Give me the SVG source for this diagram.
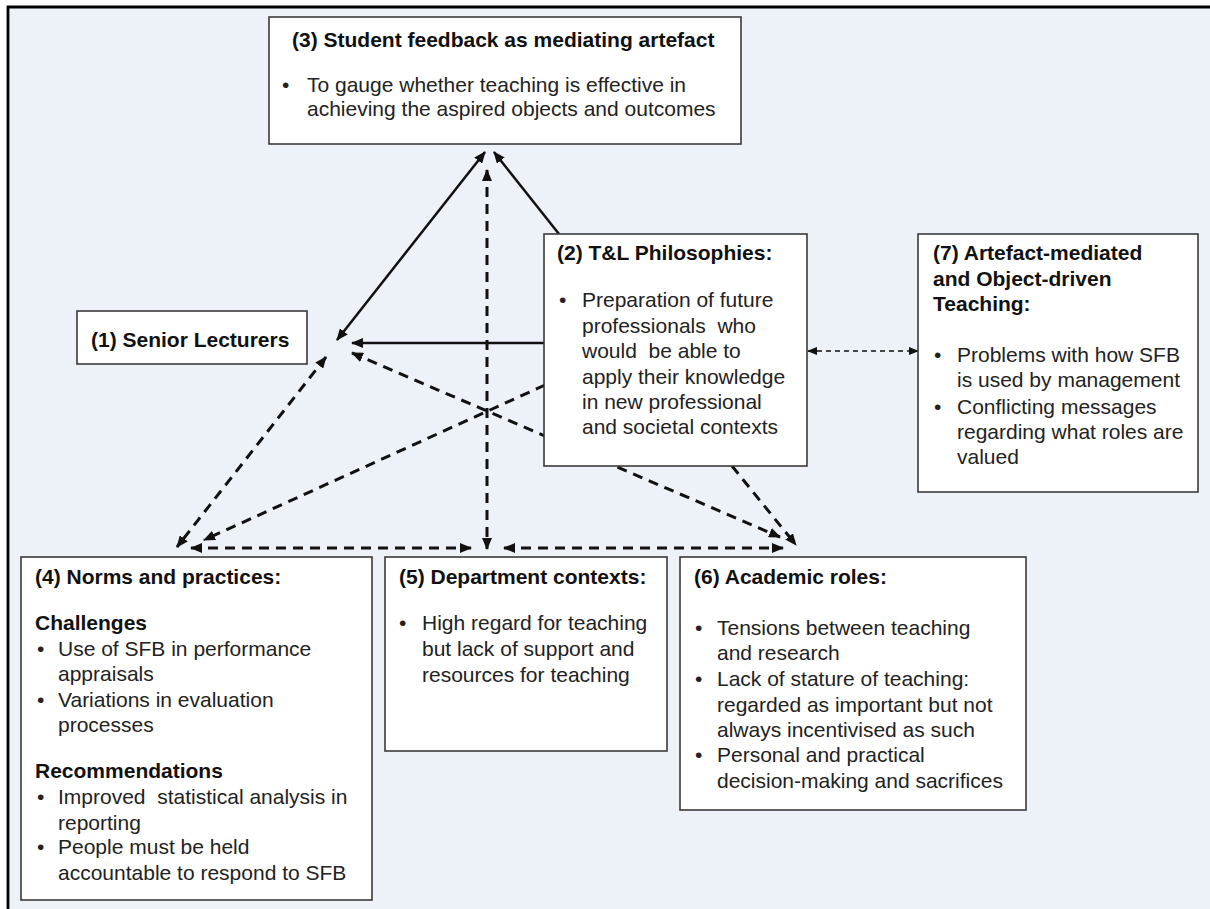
<svg xmlns="http://www.w3.org/2000/svg" width="1210" height="909" viewBox="0 0 1210 909">
  <style>
    .box { fill: #ffffff; stroke: #3a3a3a; stroke-width: 1.6; }
    .title { font-family: "Liberation Sans", Arial, sans-serif; font-size: 21px; font-weight: bold; fill: #111111; }
    .body { font-family: "Liberation Sans", Arial, sans-serif; font-size: 21px; fill: #222222; white-space: pre; }
    .solid { fill: none; stroke: #111111; stroke-width: 2.5; }
    .dash { fill: none; stroke: #111111; stroke-width: 3; stroke-dasharray: 10 7; }
    .fine { fill: none; stroke: #111111; stroke-width: 1.6; stroke-dasharray: 5 4; }
  </style>
  <defs>
    <marker id="head" markerUnits="userSpaceOnUse" markerWidth="12" markerHeight="10" refX="11" refY="5" orient="auto-start-reverse">
      <path d="M0,0 L12,5 L0,10 z" fill="#111111"/>
    </marker>
    <marker id="headSmall" markerUnits="userSpaceOnUse" markerWidth="10" markerHeight="8" refX="9" refY="4" orient="auto-start-reverse">
      <path d="M0,0 L10,4 L0,8 z" fill="#111111"/>
    </marker>
  </defs>

  <!-- page and frame -->
  <rect x="0" y="0" width="1210" height="909" fill="#ffffff"/>
  <rect x="8" y="7" width="1202" height="902" fill="#edf1f8"/>
  <path d="M8,909 L8,7 L1210,7" fill="none" stroke="#000000" stroke-width="2.8"/>

  <!-- connectors -->
  <g id="connectors">
    <line class="solid" x1="337" y1="340" x2="485" y2="152" marker-start="url(#head)" marker-end="url(#head)"/>
    <line class="solid" x1="559" y1="234" x2="494" y2="152" marker-end="url(#head)"/>
    <line class="solid" x1="544" y1="343" x2="352" y2="343" marker-end="url(#head)"/>
    <line class="dash" x1="487" y1="170" x2="487" y2="549" marker-start="url(#head)" marker-end="url(#head)"/>
    <line class="dash" x1="326" y1="357" x2="177" y2="547" marker-start="url(#head)" marker-end="url(#head)"/>
    <line class="dash" x1="545" y1="385" x2="204" y2="540" marker-end="url(#head)"/>
    <line class="dash" x1="352" y1="353" x2="780" y2="537" marker-start="url(#head)" marker-end="url(#head)"/>
    <line class="dash" x1="732" y1="466" x2="796" y2="545" marker-end="url(#head)"/>
    <line class="dash" x1="191" y1="548" x2="471" y2="548" marker-start="url(#head)" marker-end="url(#head)"/>
    <line class="dash" x1="504" y1="548" x2="783" y2="548" marker-start="url(#head)" marker-end="url(#head)"/>
    <line class="fine" x1="808" y1="351" x2="918" y2="351" marker-start="url(#headSmall)" marker-end="url(#headSmall)"/>
  </g>

  <!-- (3) Student feedback -->
  <g id="node-3">
    <rect class="box" x="269" y="17" width="472" height="127"/>
    <text class="title" x="292" y="47">(3) Student feedback as mediating artefact</text>
    <text class="body" x="282" y="92">•</text>
    <text class="body" x="307" y="92">To gauge whether teaching is effective in</text>
    <text class="body" x="307" y="116">achieving the aspired objects and outcomes</text>
  </g>

  <!-- (1) Senior Lecturers -->
  <g id="node-1">
    <rect class="box" x="77" y="311" width="230" height="53"/>
    <text class="title" x="91" y="347">(1) Senior Lecturers</text>
  </g>

  <!-- (2) T&L Philosophies -->
  <g id="node-2">
    <rect class="box" x="544" y="234" width="263" height="232"/>
    <text class="title" x="557" y="260">(2) T&amp;L Philosophies:</text>
    <text class="body" x="559" y="307">•</text>
    <text class="body" x="582" y="307">Preparation of future</text>
    <text class="body" x="582" y="333">professionals  who</text>
    <text class="body" x="582" y="358">would  be able to</text>
    <text class="body" x="582" y="384">apply their knowledge</text>
    <text class="body" x="582" y="409">in new professional</text>
    <text class="body" x="582" y="434">and societal contexts</text>
  </g>

  <!-- (7) Artefact-mediated and Object-driven Teaching -->
  <g id="node-7">
    <rect class="box" x="918" y="234" width="280" height="258"/>
    <text class="title" x="933" y="260">(7) Artefact-mediated</text>
    <text class="title" x="933" y="286">and Object-driven</text>
    <text class="title" x="933" y="311">Teaching:</text>
    <text class="body" x="934" y="362">•</text>
    <text class="body" x="957" y="362">Problems with how SFB</text>
    <text class="body" x="957" y="387">is used by management</text>
    <text class="body" x="934" y="414">•</text>
    <text class="body" x="957" y="414">Conflicting messages</text>
    <text class="body" x="957" y="439">regarding what roles are</text>
    <text class="body" x="957" y="464">valued</text>
  </g>

  <!-- (4) Norms and practices -->
  <g id="node-4">
    <rect class="box" x="21" y="557" width="351" height="343"/>
    <text class="title" x="35" y="584">(4) Norms and practices:</text>
    <text class="title" x="35" y="630">Challenges</text>
    <text class="body" x="37" y="656">•</text>
    <text class="body" x="58" y="656">Use of SFB in performance</text>
    <text class="body" x="58" y="681">appraisals</text>
    <text class="body" x="37" y="707">•</text>
    <text class="body" x="58" y="707">Variations in evaluation</text>
    <text class="body" x="58" y="732">processes</text>
    <text class="title" x="35" y="778">Recommendations</text>
    <text class="body" x="37" y="804">•</text>
    <text class="body" x="58" y="804">Improved  statistical analysis in</text>
    <text class="body" x="58" y="830">reporting</text>
    <text class="body" x="37" y="854">•</text>
    <text class="body" x="58" y="854">People must be held</text>
    <text class="body" x="58" y="880">accountable to respond to SFB</text>
  </g>

  <!-- (5) Department contexts -->
  <g id="node-5">
    <rect class="box" x="385" y="557" width="282" height="194"/>
    <text class="title" x="399" y="584">(5) Department contexts:</text>
    <text class="body" x="399" y="630">•</text>
    <text class="body" x="422" y="630">High regard for teaching</text>
    <text class="body" x="422" y="656">but lack of support and</text>
    <text class="body" x="422" y="682">resources for teaching</text>
  </g>

  <!-- (6) Academic roles -->
  <g id="node-6">
    <rect class="box" x="680" y="557" width="346" height="253"/>
    <text class="title" x="694" y="584">(6) Academic roles:</text>
    <text class="body" x="695" y="635">•</text>
    <text class="body" x="717" y="635">Tensions between teaching</text>
    <text class="body" x="717" y="660">and research</text>
    <text class="body" x="695" y="686">•</text>
    <text class="body" x="717" y="686">Lack of stature of teaching:</text>
    <text class="body" x="717" y="712">regarded as important but not</text>
    <text class="body" x="717" y="737">always incentivised as such</text>
    <text class="body" x="695" y="762">•</text>
    <text class="body" x="717" y="762">Personal and practical</text>
    <text class="body" x="717" y="788">decision-making and sacrifices</text>
  </g>
</svg>
